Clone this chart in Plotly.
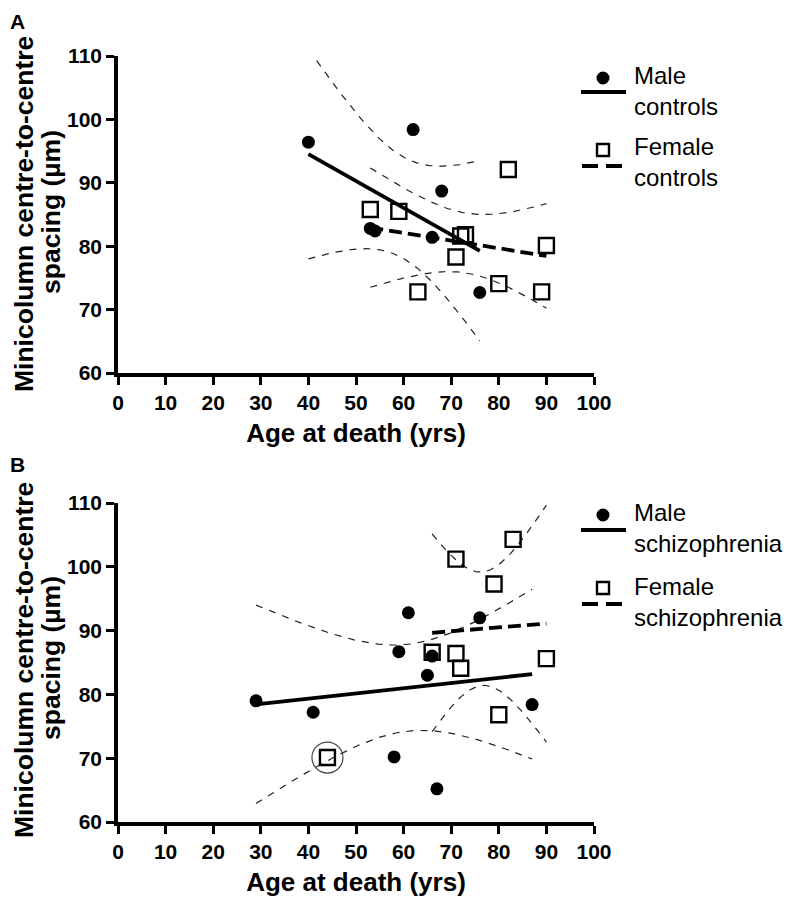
import numpy as np
import plotly.graph_objects as go

# Panel A - controls (age at death, centre-to-centre spacing in um)
male_ctrl_age = [40, 53, 54, 62, 66, 68, 76]
male_ctrl_spacing = [96.4, 82.8, 82.4, 98.4, 81.4, 88.7, 72.7]
female_ctrl_age = [53, 59, 63, 71, 72, 73, 80, 82, 89, 90]
female_ctrl_spacing = [85.8, 85.5, 72.8, 78.3, 81.6, 81.8, 74.1, 92.1, 72.8, 80.1]

# Panel B - schizophrenia
male_sz_age = [29, 41, 58, 59, 61, 65, 66, 67, 76, 87]
male_sz_spacing = [79.0, 77.2, 70.2, 86.7, 92.8, 83.0, 86.0, 65.2, 92.0, 78.4]
female_sz_age = [66, 71, 71, 72, 79, 80, 83, 90]
female_sz_spacing = [86.6, 86.4, 101.2, 84.1, 97.3, 76.8, 104.3, 85.6]
# circled case, left out of the female regression
outlier_age = [44]
outlier_spacing = [70.1]

x_ticks = list(range(0, 101, 10))
y_ticks = list(range(60, 111, 10))

# two-sided 95% t quantiles by degrees of freedom
T975 = {5: 2.571, 6: 2.447, 8: 2.306}

FONT = "Liberation Sans"
INK = "#000000"

# page layout in page pixels; the html body adds an 8px margin
W, H = 786, 891
L, T, PW, PH = 110, 48, 476, 766
X0, Y0 = 8 + L, 8 + T          # top-left of the plotting area on the page


def px(xp):
    return (xp - X0) / PW


def py(yp):
    return (Y0 + PH - yp) / PH


def fit_with_band(age, spacing):
    # linear regression line and its 95% confidence band
    x = np.array(age, float)
    y = np.array(spacing, float)
    n = len(x)
    slope, icpt = np.polyfit(x, y, 1)
    resid = y - (slope * x + icpt)
    s = np.sqrt((resid ** 2).sum() / (n - 2))
    xs = np.linspace(x.min(), x.max(), 80)
    ys = slope * xs + icpt
    se = s * np.sqrt(1 / n + (xs - x.mean()) ** 2 / ((x - x.mean()) ** 2).sum())
    hw = T975[n - 2] * se
    return xs, ys, ys - hw, ys + hw


fig = go.Figure()

FIT_DASH = "13px,6px"
groups = [
    (male_ctrl_age, male_ctrl_spacing, "circle", "solid", ("x", "y")),
    (female_ctrl_age, female_ctrl_spacing, "square-open", FIT_DASH, ("x", "y")),
    (male_sz_age, male_sz_spacing, "circle", "solid", ("x2", "y2")),
    (female_sz_age, female_sz_spacing, "square-open", FIT_DASH, ("x2", "y2")),
]

for age, spacing, sym, dash, (xa, ya) in groups:
    xs, ys, lo, hi = fit_with_band(age, spacing)
    for band in (lo, hi):
        fig.add_trace(go.Scatter(x=xs, y=band, mode="lines", xaxis=xa, yaxis=ya,
                                 line=dict(color="#222222", width=1.2, dash="7px,7px"),
                                 showlegend=False, hoverinfo="skip"))
    fig.add_trace(go.Scatter(x=xs, y=ys, mode="lines", xaxis=xa, yaxis=ya,
                             line=dict(color=INK, width=3.8, dash=dash),
                             showlegend=False))
    if sym == "circle":
        mk = dict(symbol="circle", size=13, color=INK)
    else:
        mk = dict(symbol="square-open", size=15, color=INK, line=dict(width=2.4, color=INK))
    fig.add_trace(go.Scatter(x=age, y=spacing, mode="markers", xaxis=xa, yaxis=ya,
                             marker=mk, showlegend=False))

# circled outlier in panel B
fig.add_trace(go.Scatter(x=outlier_age, y=outlier_spacing, mode="markers", xaxis="x2", yaxis="y2",
                         marker=dict(symbol="square-open", size=15, color=INK,
                                     line=dict(width=2.4, color=INK)),
                         showlegend=False))
fig.add_trace(go.Scatter(x=outlier_age, y=outlier_spacing, mode="markers", xaxis="x2", yaxis="y2",
                         marker=dict(symbol="circle-open", size=31, color="#444444",
                                     line=dict(width=1.2, color="#444444")),
                         showlegend=False))

axis_common = dict(
    showline=True, linecolor=INK, linewidth=3.6, ticks="outside", ticklen=8,
    tickwidth=3, tickcolor=INK, showgrid=False, zeroline=False, automargin=False,
    tickfont=dict(family=FONT, size=21, color=INK, weight="bold"),
)
x_common = dict(axis_common, range=[0, 100], tickvals=x_ticks,
                title=dict(text="Age at death (yrs)", standoff=12,
                           font=dict(family=FONT, size=26, color=INK, weight="bold")))
y_common = dict(axis_common, range=[60, 110], tickvals=y_ticks)

fig.update_layout(
    width=W, height=H,
    margin=dict(l=L, r=W - L - PW, t=T, b=H - T - PH),
    paper_bgcolor="white", plot_bgcolor="white",
    xaxis=dict(x_common, domain=[0, 1], anchor="y"),
    yaxis=dict(y_common, domain=[py(373), 1], anchor="x"),
    xaxis2=dict(x_common, domain=[0, 1], anchor="y2"),
    yaxis2=dict(y_common, domain=[0, py(503)], anchor="x2"),
    showlegend=False,
)

# y axis titles, one annotation per text line
for line1_y, line2_y in ((214, 212), (660, 658)):
    fig.add_annotation(text="Minicolumn centre-to-centre", xref="paper", yref="paper",
                       x=px(24), y=py(line1_y), textangle=-90, showarrow=False,
                       xanchor="center", yanchor="middle",
                       font=dict(family=FONT, size=26.5, color=INK, weight="bold"))
    fig.add_annotation(text="spacing (\u00b5m)", xref="paper", yref="paper",
                       x=px(51), y=py(line2_y), textangle=-90, showarrow=False,
                       xanchor="center", yanchor="middle",
                       font=dict(family=FONT, size=26.5, color=INK, weight="bold"))

# panel letters
for letter, top in (("A", 8), ("B", 451)):
    fig.add_annotation(text=letter, xref="paper", yref="paper", x=px(8), y=py(top),
                       showarrow=False, xanchor="left", yanchor="top",
                       font=dict(family=FONT, size=21, color=INK, weight="bold"))

# hand-drawn legends (key marker above key line, two-line labels)
legend_rows = [
    # marker, label, marker y, key line y, label centre y
    ("circle", "Male<br>controls", 78, 92, 91),
    ("square", "Female<br>controls", 150, 166, 162),
    ("circle", "Male<br>schizophrenia", 515, 530, 528),
    ("square", "Female<br>schizophrenia", 588, 604, 602),
]
for marker, label, my, ly, ty in legend_rows:
    cx = 603
    if marker == "circle":
        r = 6.5
        fig.add_shape(type="circle", xref="paper", yref="paper",
                      x0=px(cx - r), x1=px(cx + r), y0=py(my + r), y1=py(my - r),
                      fillcolor=INK, line=dict(color=INK, width=0))
        fig.add_shape(type="line", xref="paper", yref="paper",
                      x0=px(581), x1=px(626), y0=py(ly), y1=py(ly),
                      line=dict(color=INK, width=4))
    else:
        h = 6
        fig.add_shape(type="rect", xref="paper", yref="paper",
                      x0=px(cx - h), x1=px(cx + h), y0=py(my + h), y1=py(my - h),
                      fillcolor="white", line=dict(color=INK, width=2.4))
        for a, b in ((582, 598), (606, 622)):
            fig.add_shape(type="line", xref="paper", yref="paper",
                          x0=px(a), x1=px(b), y0=py(ly), y1=py(ly),
                          line=dict(color=INK, width=4))
    fig.add_annotation(text=label, xref="paper", yref="paper", x=px(632), y=py(ty),
                       showarrow=False, xanchor="left", yanchor="middle", align="left",
                       font=dict(family=FONT, size=24, color=INK))

fig.write_html("out.html")
